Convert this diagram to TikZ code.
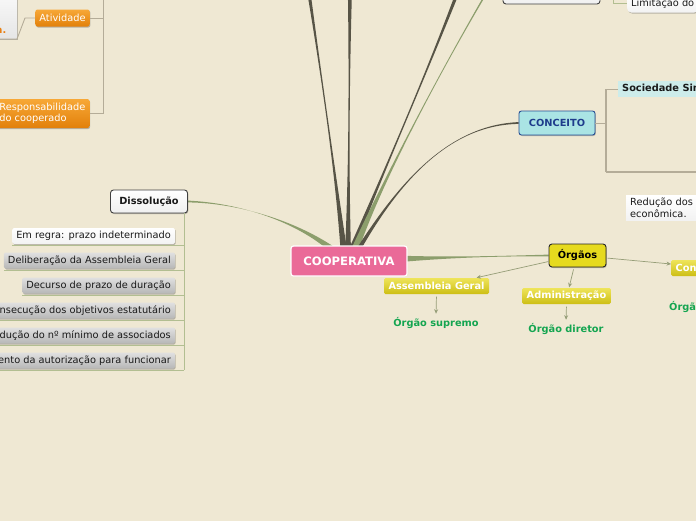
\documentclass[tikz,border=0pt]{standalone}
\usepackage{fontspec}
\setmainfont{DejaVu Sans}
\usetikzlibrary{calc,shadows,backgrounds,arrows.meta}
\definecolor{bg}{RGB}{239,232,211}
\definecolor{dkbr}{RGB}{87,84,70}
\definecolor{grbr}{RGB}{140,158,108}
\definecolor{pinkc}{RGB}{234,106,152}
\definecolor{yelc}{RGB}{230,218,30}
\definecolor{yeltop}{RGB}{238,228,90}
\definecolor{yelbot}{RGB}{205,190,20}
\definecolor{ortop}{RGB}{247,168,55}
\definecolor{orbot}{RGB}{226,128,10}
\definecolor{ortxt}{RGB}{232,128,20}
\definecolor{greentx}{RGB}{20,165,80}
\definecolor{cfill}{RGB}{170,228,228}
\definecolor{cdraw}{RGB}{40,80,150}
\definecolor{ctext}{RGB}{30,60,140}
\definecolor{sfill}{RGB}{205,236,234}
\definecolor{txtc}{RGB}{25,25,25}
\definecolor{arrc}{RGB}{150,158,120}
\definecolor{linec}{RGB}{180,172,152}
\definecolor{dlinec}{RGB}{178,190,145}
\definecolor{graytop}{RGB}{224,224,224}
\definecolor{graybot}{RGB}{183,183,183}
\newcommand\mmtaper[7]{%
  \fill[#7] ($#1-#2$) .. controls #3 and #4 .. ($#5-#6$) -- ($#5+#6$) .. controls #4 and #3 .. ($#1+#2$) -- cycle;}
\tikzset{
  every node/.style={font=\fontsize{9.8}{11.5}\selectfont, text=txtc},
  shad/.style={drop shadow={shadow xshift=0.8pt,shadow yshift=-1pt,opacity=0.35,fill=black!70}},
  coopbox/.style={fill=pinkc, draw=white, line width=1.2pt, rounded corners=2.5pt,
    text=white, font=\fontsize{11.6}{13}\selectfont\bfseries, minimum width=116pt, minimum height=30pt, inner sep=0pt},
  orgbox/.style={fill=yelc, draw=black!85, line width=0.9pt, rounded corners=3pt, shad,
    font=\fontsize{9.8}{11.5}\selectfont\bfseries, text=black, minimum width=57pt, minimum height=23pt, inner sep=0pt},
  ylab/.style={top color=yeltop, bottom color=yelbot, draw=none, rounded corners=1.5pt,
    font=\fontsize{9.8}{11.5}\selectfont\bfseries, text=white, minimum height=16pt, inner xsep=4.5pt, inner ysep=0pt},
  greentxt/.style={font=\fontsize{9.8}{11.5}\selectfont\bfseries, text=greentx, inner sep=2pt},
  dissbox/.style={top color=white, bottom color=black!6, draw=black!75, line width=0.9pt, rounded corners=3pt, shad,
    font=\fontsize{9.8}{11.5}\selectfont\bfseries, minimum width=77pt, minimum height=23pt, inner sep=0pt},
  grayitem/.style={top color=graytop, bottom color=graybot, draw=none, rounded corners=1.5pt, shad,
    minimum height=16pt, inner xsep=4pt, inner ysep=0pt},
  whiteitem/.style={top color=white, bottom color=black!5, draw=none, rounded corners=1.5pt, shad,
    minimum height=16pt, inner xsep=4pt, inner ysep=0pt},
  obox/.style={top color=ortop, bottom color=orbot, draw=none, rounded corners=2pt, shad,
    text=white, inner xsep=4pt, inner ysep=0pt, minimum height=17pt},
  cbox/.style={fill=cfill, draw=cdraw, line width=0.9pt, rounded corners=2.5pt, shad,
    font=\fontsize{9.8}{11.5}\selectfont\bfseries, text=ctext, minimum width=76pt, minimum height=24pt, inner sep=0pt},
  sbox/.style={fill=sfill, draw=none, font=\fontsize{9.8}{11.5}\selectfont\bfseries, minimum height=16pt, inner xsep=4pt, inner ysep=0pt},
  arr/.style={draw=arrc, line width=0.7pt, -{Stealth[length=4.5pt,width=4pt]}},
  gline/.style={draw=linec, line width=0.9pt},
  dline/.style={draw=dlinec, line width=0.9pt},
}
\begin{document}
\begin{tikzpicture}[x=1pt,y=-1pt]
\useasboundingbox (0,0) rectangle (696,520);
\clip (0,0) rectangle (696,520);

% ---- central topic
\node[coopbox] (coop) at (349,261) {COOPERATIVA};

% ---- Órgãos
\node[orgbox] (org) at (577.5,255.5) {Órgãos};
\node[ylab] (assem) at (436.5,286) {Assembleia Geral};
\node[greentxt] (sup) at (436,323) {Órgão supremo};
\node[ylab] (adm) at (566.5,296) {Administração};
\node[greentxt] (dir) at (566,329) {Órgão diretor};
\node[ylab, anchor=west] (con) at (671,268) {Conselho Fiscal};
\node[greentxt, anchor=west] (fis) at (667,307) {Órgão fiscal};
\draw[arr, shorten >=0.5pt] ([yshift=-6pt]org.west) -- ([xshift=39.5pt]assem.north);
\draw[arr, shorten <=2pt, shorten >=0.5pt] ([xshift=-3.5pt]org.south) -- ([xshift=2.5pt]adm.north);
\draw[arr, shorten <=2.5pt, shorten >=1.5pt] (assem.south) -- (sup.north);
\draw[arr, shorten <=2.5pt, shorten >=1.5pt] (adm.south) -- (dir.north);
\draw[arr, shorten <=1pt] ([yshift=-2.5pt]org.east) -- ([yshift=4pt]con.west);

% ---- Dissolução
\node[dissbox] (diss) at (149,201.5) {Dissolução};
\node[whiteitem, anchor=east] (i1) at (175,236) {Em regra: prazo indeterminado};
\node[grayitem, anchor=east] (i2) at (175,260.5) {Deliberação da Assembleia Geral};
\node[grayitem, anchor=east] (i3) at (175,285.5) {Decurso de prazo de duração};
\node[grayitem, anchor=east] (i4) at (175,310.5) {Consecução dos objetivos estatutário};
\node[grayitem, anchor=east] (i5) at (175,335.5) {Redução do nº mínimo de associados};
\node[grayitem, anchor=east] (i6) at (175,360.5) {Cancelamento da autorização para funcionar};
\coordinate (dtop) at (184,213);
\coordinate (dbot) at (184,370);
\draw[dline] (dtop) -- (dbot);
\foreach \n in {i1,i2,i3,i4,i5,i6}{
  \draw[dline] ($(\n.south west)+(0,1.5)$) -- ($(\n.south west -| dtop)+(0,1.5)$);
}

% ---- top left
\node[top color=white, bottom color=black!10, draw=none, shad, minimum width=37pt, minimum height=58.5pt, inner sep=0pt] (abox) at (-1.5,9.25) {};
\node[anchor=east, font=\fontsize{9.8}{11.5}\selectfont\bfseries, text=ortxt, inner sep=0pt] (atxt) at (6.5,31) {a.};
\node[obox] (ativ) at (62.5,18) {Atividade};
\node[obox, anchor=east, align=left, minimum height=29pt] (resp) at (89.5,113.5) {Responsabilidade\\do cooperado};
\coordinate (alow) at (-5,39);
\coordinate (abend) at (17,39);
\coordinate (aup) at (25,18);
\draw[gline] (alow) -- (abend) -- (aup) -- (ativ.west);
\coordinate (lv) at (103,-10);
\draw[gline] (ativ.east) -- (ativ.east -| lv);
\draw[gline] (resp.east) -- (resp.east -| lv);
\draw[gline] (lv) -- (resp.east -| lv);

% ---- top right
\node[top color=white, bottom color=black!6, draw=black!75, line width=0.9pt, rounded corners=3pt, minimum width=97pt, minimum height=24pt, inner sep=0pt] (topb) at (551.5,-8) {};
\node[whiteitem, anchor=west, minimum height=18pt, rounded corners=4pt] (lim) at (627,3.5) {Limitação do};
\coordinate (tv) at (613,-8);
\draw[dline] (topb.east) -- (tv) |- (lim.west);

% ---- CONCEITO
\node[cbox] (conc) at (557,123) {CONCEITO};
\node[sbox, anchor=west] (soc) at (618,89) {Sociedade Simples};
\coordinate (cv1) at (606,89);
\coordinate (cv2) at (606,172);
\coordinate (cend) at (710,172);
\draw[gline] (conc.east) -- (conc.east -| cv1);
\draw[gline, line width=1.3pt] (cv1) -- (cv2);
\draw[gline] (cv1) -- (soc.west);
\draw[gline, line width=1.3pt] (cv2) -- (cend);
\node[whiteitem, anchor=north west, align=left, inner ysep=3pt, rounded corners=0pt] (red) at (626,195) {Redução dos\\econômica.};

% ---- tapered branches
\begin{scope}[on background layer]
\fill[bg] (-10,-10) rectangle (706,530);
\coordinate (t1) at (307,-20);
\coordinate (t2) at (350,-20);
\coordinate (t3) at (470,-40);
\coordinate (t4) at (500,-30);
\mmtaper{(344,252)}{(3.3,0)}{(335,170)}{(322,80)}{(t1)}{(1.9,0)}{dkbr}
\mmtaper{(348,252)}{(3.0,0)}{(348.7,170)}{(349.3,80)}{(t2)}{(2.3,0)}{dkbr}
\mmtaper{(351,252)}{(2.9,1.1)}{(375,190)}{(425,80)}{(t3)}{(2.1,0.8)}{dkbr}
\mmtaper{(354,252)}{(3.5,1.4)}{(378,190)}{(440,70)}{(t4)}{(0.9,0.35)}{grbr}
\mmtaper{(357,252)}{(1.8,1.1)}{(400,180)}{(450,125)}{(conc.west)}{(0,0.9)}{dkbr}
\mmtaper{(338,254)}{(2.3,-2.8)}{(300,222)}{(240,203)}{(diss.east)}{(0,0.9)}{grbr}
\mmtaper{(395,259)}{(0,3.5)}{(450,257.5)}{(500,256)}{(org.west)}{(0,0.9)}{grbr}
\end{scope}
\end{tikzpicture}
\end{document}
